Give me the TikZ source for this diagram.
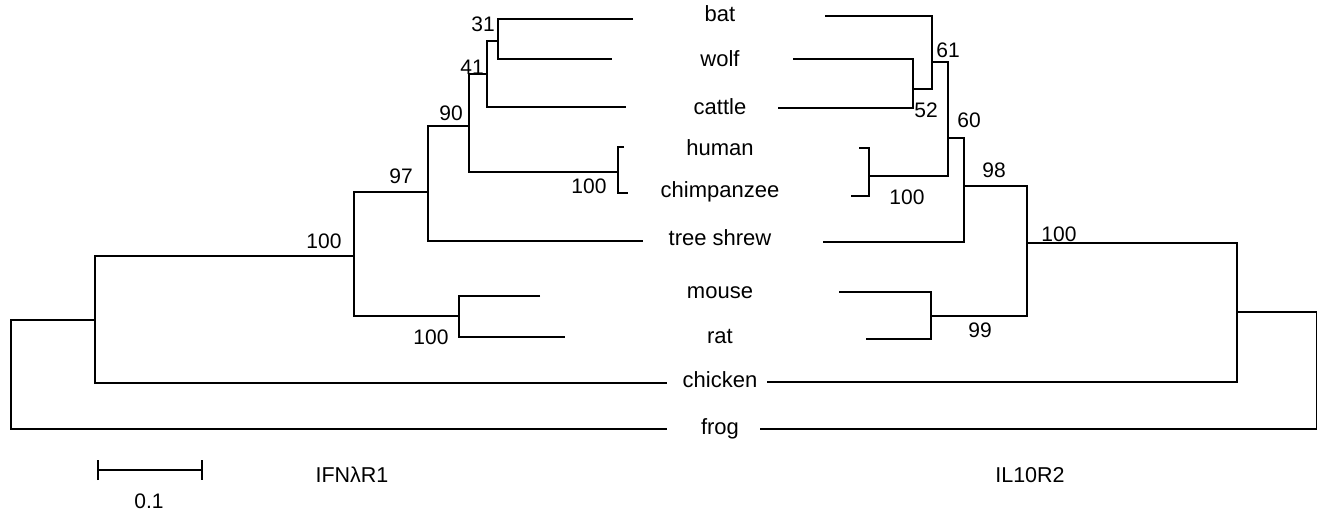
\documentclass[tikz,border=0pt]{standalone}
\usepackage{fontspec}
\setmainfont{Liberation Sans}
\usetikzlibrary{arrows.meta}
\begin{document}
\begin{tikzpicture}[x=1pt,y=-1pt,
  br/.style={line width=1.7pt},
  taxon/.style={font=\fontsize{22}{26}\selectfont, inner sep=0pt, anchor=base},
  boot/.style={font=\fontsize{21}{25}\selectfont, inner sep=0pt},
  ttl/.style={font=\fontsize{21.5}{25}\selectfont, inner sep=0pt}]
\useasboundingbox (0,0) rectangle (1318,512);

% taxon labels
\node[taxon] (bat) at (720,21) {bat};
\node[taxon] (wolf) at (720,66) {wolf};
\node[taxon] (cattle) at (720,114) {cattle};
\node[taxon] (human) at (720,155) {human};
\node[taxon] (chimp) at (720,197) {chimpanzee};
\node[taxon] (shrew) at (720,245) {tree shrew};
\node[taxon] (mouse) at (720,298) {mouse};
\node[taxon] (rat) at (720,343) {rat};
\node[taxon] (chicken) at (720,387) {chicken};
\node[taxon] (frog) at (720,434) {frog};

% ---------- left tree (IFNlambdaR1) ----------
\coordinate (batL) at (633,19);
\coordinate (wolfL) at (612,59);
\coordinate (cattleL) at (626,107);
\coordinate (humanL) at (624,147);
\coordinate (chimpL) at (628,193);
\coordinate (shrewL) at (643,241);
\coordinate (mouseL) at (540,296);
\coordinate (ratL) at (565,337);
\coordinate (chickenL) at (667,383);
\coordinate (frogL) at (667,429);

\coordinate (a31) at (498,41);
\coordinate (a41) at (487,74);
\coordinate (a90) at (469,126);
\coordinate (ahc) at (618,172);
\coordinate (a97) at (428,192);
\coordinate (amr) at (459,316);
\coordinate (a100) at (354,256);
\coordinate (ach) at (95,320);
\coordinate (aroot) at (11,320);

\draw[br] (batL) -| (a31) |- (wolfL);
\draw[br] (a31) -| (a41) |- (cattleL);
\draw[br] (a41) -| (a90) |- (ahc);
\draw[br] (humanL) -| (ahc) |- (chimpL);
\draw[br] (a90) -| (a97) |- (shrewL);
\draw[br] (mouseL) -| (amr) |- (ratL);
\draw[br] (a97) -| (a100) |- (amr);
\draw[br] (a100) -| (ach) |- (chickenL);
\draw[br] (ach) -| (aroot) |- (frogL);

\node[boot] (l31) at (483,24) {31};
\node[boot] (l41) at (472,67) {41};
\node[boot] (l90) at (451,113) {90};
\node[boot] (l100hc) at (589,186) {100};
\node[boot] (l97) at (401,176) {97};
\node[boot] (l100) at (324,241) {100};
\node[boot] (l100mr) at (431,337) {100};

% ---------- right tree (IL10R2) ----------
\coordinate (batR) at (825,16);
\coordinate (wolfR) at (793,59);
\coordinate (cattleR) at (778,108);
\coordinate (humanR) at (859,148);
\coordinate (chimpR) at (851,196);
\coordinate (shrewR) at (823,242);
\coordinate (mouseR) at (839,292);
\coordinate (ratR) at (866,339);
\coordinate (chickenR) at (767,382);
\coordinate (frogR) at (760,429);

\coordinate (b52) at (913,89);
\coordinate (b61) at (932,62);
\coordinate (bhc) at (869,176);
\coordinate (b60) at (948,138);
\coordinate (b98) at (964,186);
\coordinate (bmr) at (931,316);
\coordinate (b100) at (1027,243);
\coordinate (bch) at (1237,312);
\coordinate (broot) at (1316.5,312);

\draw[br] (batR) -| (b61) |- (b52);
\draw[br] (wolfR) -| (b52) |- (cattleR);
\draw[br] (b61) -| (b60) |- (bhc);
\draw[br] (humanR) -| (bhc) |- (chimpR);
\draw[br] (b60) -| (b98) |- (shrewR);
\draw[br] (mouseR) -| (bmr) |- (ratR);
\draw[br] (b98) -| (b100) |- (bmr);
\draw[br] (b100) -| (bch) |- (chickenR);
\draw[br] (bch) -| (broot) |- (frogR);

\node[boot] (r61) at (948,50) {61};
\node[boot] (r52) at (926,110) {52};
\node[boot] (r60) at (969,120) {60};
\node[boot] (r98) at (994,170) {98};
\node[boot] (r100hc) at (907,197) {100};
\node[boot] (r100) at (1059,234) {100};
\node[boot] (r99) at (980,330) {99};

% scale bar and titles
\coordinate (sbL) at (97,470);
\coordinate (sbR) at (203,470);
\draw[br, {Bar[width=20pt]}-{Bar[width=20pt]}] (sbL) -- (sbR);
\node[boot] (sbtext) at (149,501) {0.1};
\node[ttl] (t1) at (352,475) {IFNλR1};
\node[ttl] (t2) at (1030,475) {IL10R2};
\end{tikzpicture}
\end{document}
